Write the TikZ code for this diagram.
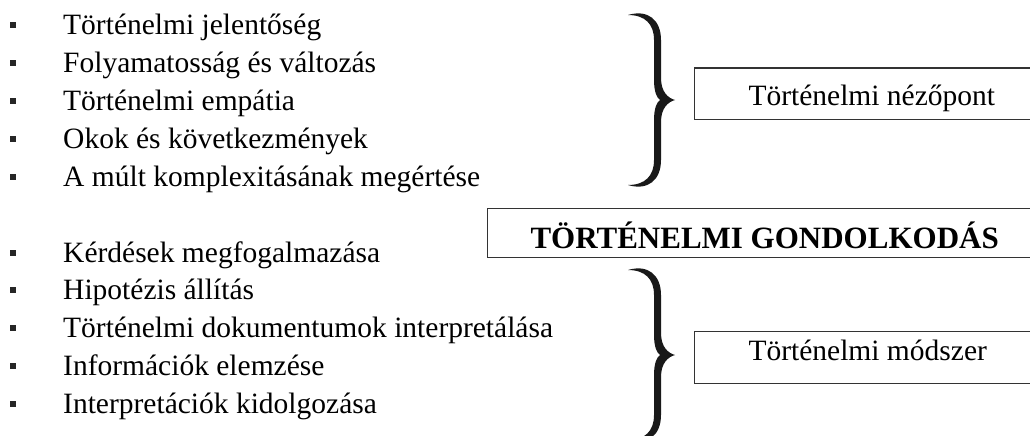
\documentclass[tikz,border=0pt]{standalone}
\usepackage{fontspec}
\setmainfont{Liberation Serif}
\usetikzlibrary{positioning}

\tikzset{
  pont/.style  = {anchor=base west, inner sep=0pt, font=\fontsize{29.5}{36}\selectfont},
  kocka/.style = {fill=black!85, minimum size=6pt, inner sep=0pt},
  keret/.style = {draw=black!80, line width=1pt, anchor=base west, inner ysep=0pt,
                  font=\fontsize{29.5}{36}\selectfont}
}

% kapcsos zarojel, csucsa #1-nel
\newcommand{\kapocs}[1]{%
  \fill[black!90, shift={#1}] (-47,85) .. controls (-27,91) and (-14,80) .. (-14,60)
    -- (-14,22) .. controls (-14,8) and (-7,2) .. (0,0)
    .. controls (-7,-2) and (-14,-8) .. (-14,-22) -- (-14,-60)
    .. controls (-14,-80) and (-27,-91) .. (-47,-85)
    .. controls (-30,-85) and (-21,-76) .. (-21,-60) -- (-21,-20)
    .. controls (-21,-8) and (-18,-2) .. (-15,0)
    .. controls (-18,2) and (-21,8) .. (-21,20) -- (-21,60)
    .. controls (-21,76) and (-30,85) .. (-47,85) -- cycle;}

\begin{document}
\begin{tikzpicture}[x=1pt, y=1pt]
  \useasboundingbox (0,0) rectangle (1030,-436);

  % nezopont
  \foreach \txt [count=\i] in {Történelmi jelentőség, Folyamatosság és változás,
      Történelmi empátia, Okok és következmények, A múlt komplexitásának megértése}{
    \node[pont] (fel\i) at (63, {-35-37.75*(\i-1)}) {\txt};
    \node[kocka] (fk\i) at ([xshift=-50pt, yshift=9.5pt]fel\i.base west) {};
  }

  % modszer
  \foreach \txt [count=\i] in {Kérdések megfogalmazása, Hipotézis állítás,
      Történelmi dokumentumok interpretálása, Információk elemzése, Interpretációk kidolgozása}{
    \node[pont] (le\i) at (63, {-262-37.75*(\i-1)}) {\txt};
    \node[kocka] (lk\i) at ([xshift=-50pt, yshift=9.5pt]le\i.base west) {};
  }

  \node[keret, inner xsep=54pt, text height=37pt, text depth=14pt] (nezopont) at (694,-105) {Történelmi nézőpont};
  \node[keret, inner xsep=43pt, text height=40pt, text depth=9pt, font=\fontsize{31}{36}\bfseries] (gondolkodas) at (487,-248) {TÖRTÉNELMI GONDOLKODÁS};
  \node[keret, inner xsep=54pt, text height=29pt, text depth=23pt] (modszer) at (694,-360) {Történelmi módszer};

  \kapocs{(675,-100)}
  \kapocs{(675,-355)}
\end{tikzpicture}
\end{document}
